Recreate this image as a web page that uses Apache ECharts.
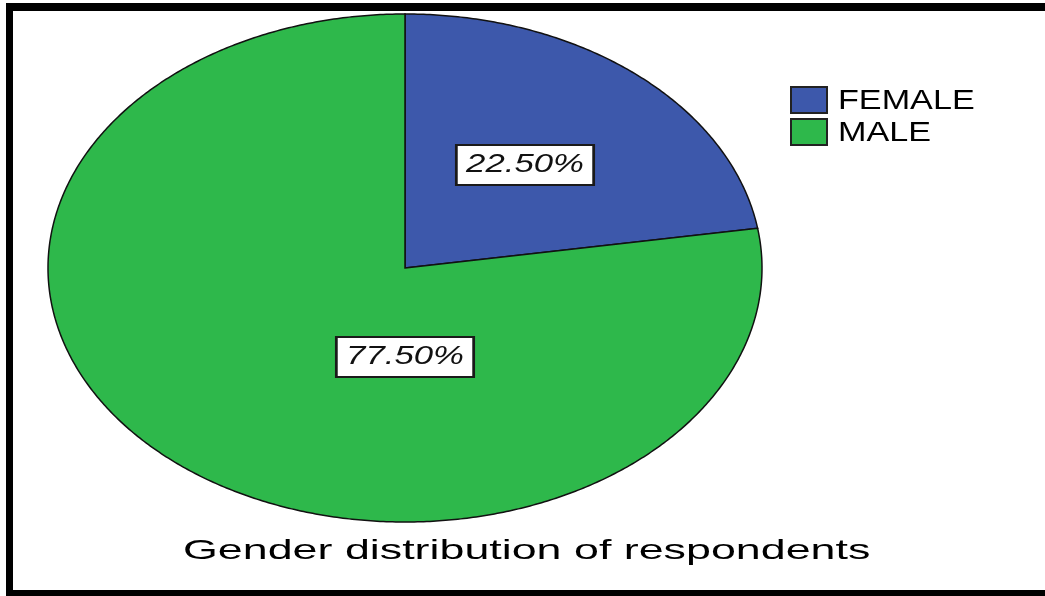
<!DOCTYPE html>
<html>
<head>
<meta charset="utf-8">
<script src="https://cdn.jsdelivr.net/npm/echarts@6/dist/echarts.min.js"></script>
<style>
  html, body { margin: 0; padding: 0; background: #fff; }
  #chart { width: 1045px; height: 596px; }
</style>
</head>
<body>
<div id="chart"></div>
<script>
// data
const categories = ['FEMALE', 'MALE'];
const shares = [22.5, 77.5];
const pctLabels = ['22.50%', '77.50%'];
const colors = ['#3d58ab', '#2eb84b'];

// layout of the (elliptical) pie
const cx = 405, cy = 268, rx = 357, ry = 254;
const labelAt = [[525, 165], [405, 357]];
const total = shares.reduce((a, b) => a + b, 0);

function slicePoints(startFrac, endFrac) {
  const pts = [[cx, cy]];
  const a0 = startFrac * Math.PI * 2, a1 = endFrac * Math.PI * 2;
  const steps = Math.max(2, Math.ceil((a1 - a0) / (Math.PI / 360)));
  for (let k = 0; k <= steps; k++) {
    const a = a0 + (a1 - a0) * k / steps;
    // clockwise from 12 o'clock
    pts.push([cx + rx * Math.sin(a), cy - ry * Math.cos(a)]);
  }
  return pts;
}

function makeRender(i) {
  return function (params, api) {
    const v = api.value(0);
    let before = 0;
    for (let j = 0; j < i; j++) before += shares[j];
    const pts = slicePoints(before / total, (before + v) / total);
    return {
      type: 'group',
      children: [
        {
          type: 'polygon',
          shape: { points: pts },
          style: { fill: colors[i], stroke: '#111', lineWidth: 1.5 }
        },
        {
          type: 'text',
          x: labelAt[i][0],
          y: labelAt[i][1],
          scaleX: 1.39,
          z2: 10,
          style: {
            text: pctLabels[i],
            x: 0, y: 0,
            align: 'center',
            verticalAlign: 'middle',
            font: 'italic 25px "Liberation Sans", Arial, sans-serif',
            fill: '#111',
            backgroundColor: '#fff',
            borderColor: '#1a1a1a',
            borderWidth: 2,
            padding: [7, 6, 6, 6]
          }
        }
      ]
    };
  };
}

const chart = echarts.init(document.getElementById('chart'));

const legendGraphics = [];
categories.forEach((name, i) => {
  const y = 87 + i * 32;
  legendGraphics.push({
    type: 'rect',
    shape: { x: 791, y: y, width: 36, height: 26 },
    style: { fill: colors[i], stroke: '#222', lineWidth: 2 }
  });
  legendGraphics.push({
    type: 'text',
    x: 838, y: y + 14,
    scaleX: 1.22,
    style: {
      text: name, x: 0, y: 0,
      verticalAlign: 'middle',
      font: '28px "Liberation Sans", Arial, sans-serif',
      fill: '#000'
    }
  });
});

chart.setOption({
  backgroundColor: '#fff',
  animation: false,
  graphic: [
    // frame
    { type: 'rect', shape: { x: 6, y: 3, width: 1039, height: 8 }, style: { fill: '#000' } },
    { type: 'rect', shape: { x: 6, y: 3, width: 7, height: 593 }, style: { fill: '#000' } },
    { type: 'rect', shape: { x: 13, y: 590, width: 1032, height: 6 }, style: { fill: '#000' } },
    // title
    {
      type: 'text',
      x: 183, y: 551,
      scaleX: 1.6,
      style: {
        text: 'Gender distribution of respondents',
        x: 0, y: 0,
        verticalAlign: 'middle',
        font: '28px "Liberation Sans", Arial, sans-serif',
        fill: '#000'
      }
    }
  ].concat(legendGraphics),
  series: categories.map((name, i) => ({
    type: 'custom',
    name: name,
    coordinateSystem: 'none',
    data: [[shares[i]]],
    renderItem: makeRender(i),
    silent: true
  }))
});
</script>
</body>
</html>
